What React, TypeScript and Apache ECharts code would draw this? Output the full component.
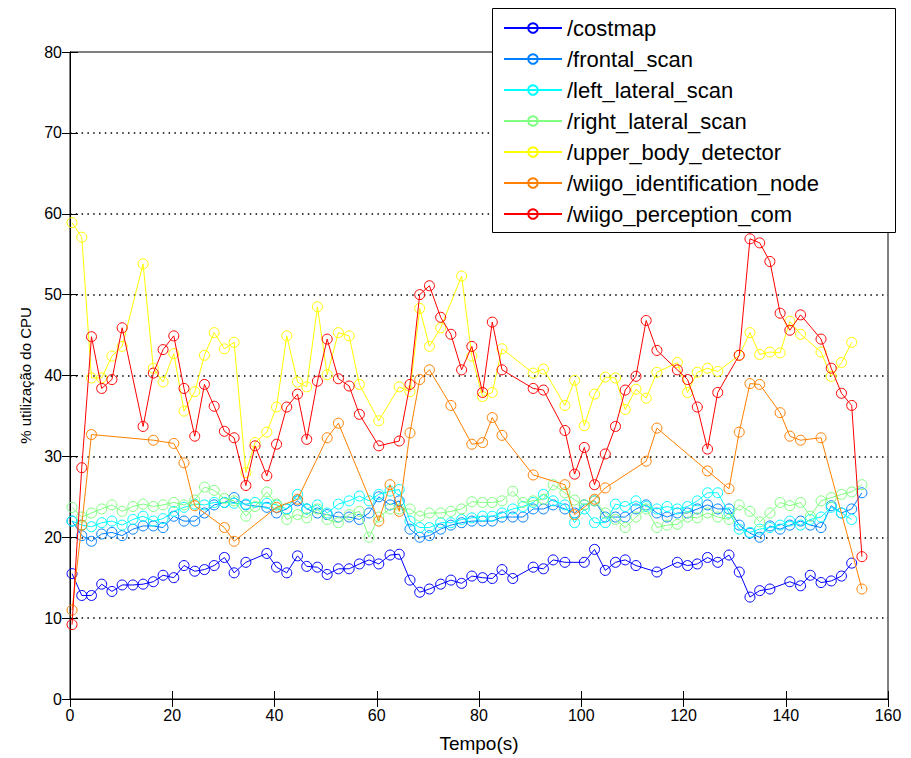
import React, { useEffect, useRef } from "react";
import * as echarts from "echarts";

const TIME = [0.4, 2.3, 4.2, 6.2, 8.2, 10.2, 12.3, 14.3, 16.3, 18.2, 20.3, 22.3, 24.4, 26.3, 28.2, 30.2, 32.1, 34.4, 36.2, 38.5, 40.4, 42.4, 44.5, 46.3, 48.4, 50.3, 52.5, 54.6, 56.6, 58.5, 60.4, 62.6, 64.4, 66.5, 68.4, 70.3, 72.5, 74.5, 76.6, 78.6, 80.7, 82.6, 84.5, 86.6, 88.6, 90.6, 92.6, 94.5, 96.8, 98.7, 100.6, 102.6, 104.7, 106.7, 108.6, 110.7, 112.7, 114.8, 116.8, 118.8, 120.8, 122.7, 124.7, 126.7, 128.9, 130.9, 133.0, 134.9, 136.9, 138.9, 140.8, 142.9, 144.8, 146.9, 148.9, 150.9, 152.9, 154.9];

const costmap = [15.5, 12.8, 12.8, 14.2, 13.3, 14.1, 14.1, 14.2, 14.5, 15.3, 15, 16.5, 15.8, 16, 16.5, 17.5, 15.6, 16.9, null, 18, 16.3, 15.6, 17.7, 16.4, 16.3, 15.4, 16.1, 16.1, 16.7, 17.2, 16.7, 17.8, 17.9, 14.7, 13.2, 13.6, 14.2, 14.7, 14.3, 15.2, 15, 14.9, 16, 14.9, null, 16.3, 16.1, 17.2, 16.9, null, 16.9, 18.5, 15.9, 16.9, 17.2, 16.5, null, 15.7, null, 16.9, 16.5, 16.7, 17.5, 16.9, 17.8, 15.7, 12.6, 13.4, 13.6, null, 14.5, 14, 15.3, 14.4, 14.6, 15.2, 16.8, null];

const frontalScan = [22, 20.2, 19.5, 20.4, 20.6, 20.2, 21, 21.4, 21.4, 21.2, 22.6, 22, 22, 23, 24, 24.3, 24.9, 24, null, 23.7, 23, 23.5, 24.5, 23.5, 23, 22.8, 22.5, 22.5, 22.2, 23, 25, 24, 24.5, 21, 20, 20.2, 21, 21.5, 21.8, 22, 22, 22, 22.5, 22.5, 22.5, 23.5, 23.5, 24, 23.5, 23, 24, 24.5, 22.5, 22.5, 22.5, 23.5, 24, 23, 22.5, 23, 23, 23.5, 24, 23.5, 23.5, 21.5, 20.5, 20, 21.4, 21, 21.5, 22, 21.5, 21.2, 23.9, 23, 23.5, 25.5];

const leftLateralScan = [22, 21.5, 21.3, 21.8, 22, 21.5, 22.2, 22.6, 22, 22.3, 23.2, 23.7, 24.1, 24, 24.3, 24.3, 24.2, 24.1, 24.3, 24.2, 24, 23.5, 25.3, 23.5, 24, 23, 24.1, 24.5, 25.1, 24.5, 25.3, 25.7, 25.9, 22, 21.2, 21.2, 21.8, 21.8, 22.2, 22.4, 22.6, 22.6, 23, 23.5, 23.8, 24.3, 25.3, 24.5, 24, 21.8, 23.5, 21.8, 21.8, 24.1, 23.8, 24.5, 23.8, 23.5, 23.8, 23.5, 23.8, 24.5, 25.5, 25.5, 23, 21, 20.6, 21, 21.2, 21.5, 22, 21.5, 22.2, 22.5, 23.7, 23, 22.2, null];

const rightLateralScan = [23.7, 22.5, 23, 23.5, 24, 23.2, 23.8, 24.1, 23.8, 24, 24.3, 24, 24.6, 26.2, 25.8, 24.8, 24.5, 22.6, 23.8, 25.6, 24.1, 22.2, 22.8, 22.4, 23.5, 22.2, 21.8, 22.8, 23.2, 20, 22.5, 23.5, 23.5, 23.5, 22.6, 23, 23, 23.2, 23.5, 24.4, 24.3, 24.3, 24.5, 25.7, 24.3, 24.5, 24.7, 26.5, 25.5, 24.6, 24, 24.5, 23, 22.2, 21.2, 22.5, 23.5, 21.2, 21.5, 21.6, 22.5, 22.4, 23, 22.5, 22.2, 24, 23.2, 21.9, 23, 24.3, 23.9, 24.3, 22.6, 24.5, 24.9, 25.3, 25.6, 26.5];

const upperBodyDetector = [58.9, 57.1, 39.7, 39.7, 42.4, 43.6, null, 53.8, 40.9, 39.2, 42.7, 35.6, 38, 42.5, 45.3, 43.3, 44.1, 28, 31.7, 33, 36.1, 44.9, 39.2, 38.6, 48.5, 40.1, 45.3, 44.9, 38.9, null, 34.4, null, 38.6, 38, 48.3, 43.6, 45.9, null, 52.3, 42.4, 37.4, 37.9, 43.3, null, null, 40.3, 40.8, null, 36.3, 39.4, 33.8, 37.7, 39.8, 39.7, 35.8, 38.3, 37.2, 40.4, null, 41.6, 37.9, 40.4, 40.9, 40.5, null, 42.5, 45.3, 42.6, 42.9, 42.8, 46.7, 45.1, null, 42.9, 39.9, 41.6, 44.1, null];

const identificationNode = [11, 21.5, 32.7, null, null, null, null, null, 32, null, 31.6, 29.2, 23.9, null, null, 21.2, 19.5, null, null, null, 23.7, null, 24.7, null, null, 32.3, 34.1, null, null, null, 22, 26.5, 23.2, 32.9, 39.5, 40.7, null, 36.3, null, 31.5, 31.7, 34.8, 32.6, null, null, 27.7, null, null, 26.5, 22.8, null, 24.7, 26.1, null, null, null, 29.4, 33.5, null, null, null, null, 28.2, null, 26, 33, 39, 38.9, null, 35.4, 32.5, 32, null, 32.3, null, null, null, 13.6];

const perceptionCom = [9.2, 28.6, 44.8, 38.4, 39.5, 45.9, null, 33.7, 40.3, 43.2, 44.9, 38.4, 32.5, 38.9, 36.2, 33.1, 32.3, 26.4, 31.3, 27.6, 31.5, 36.1, 37.7, 32.1, 39.3, 44.5, 39.6, 38.7, 35.2, null, 31.3, null, 31.9, 38.9, 50, 51.1, 47.2, 45.1, 40.7, 43.6, 37.9, 46.6, 40.7, null, null, 38.4, 38.2, null, 33.2, 27.8, 31.1, 26.5, 30.3, 33.7, 38.2, 39.9, 46.8, 43.1, null, 40.7, 39.5, 36.1, 30.9, 37.9, null, 42.5, 56.9, 56.4, 54.1, 47.7, 45.6, 47.5, null, 44.5, 40.9, 37.8, 36.3, 17.6];

const SERIES_NAMES = ["/costmap", "/frontal_scan", "/left_lateral_scan", "/right_lateral_scan", "/upper_body_detector", "/wiigo_identification_node", "/wiigo_perception_com"];
const SERIES_VALUES = [costmap, frontalScan, leftLateralScan, rightLateralScan, upperBodyDetector, identificationNode, perceptionCom];
const SERIES_COLORS = ["#0000ff", "#0080ff", "#00ffff", "#80ff80", "#ffff00", "#ff8000", "#ff0000"];

const FONT = "'Liberation Sans', Arial, sans-serif";

export default function App() {
  const ref = useRef<HTMLDivElement>(null);
  useEffect(() => {
    if (!ref.current) return;
    const chart = echarts.init(ref.current, undefined, { renderer: "svg" });
    const series = SERIES_NAMES.map((name, k) => ({
      name,
      type: "line",
      xAxisIndex: 0,
      yAxisIndex: 0,
      data: TIME.map((t, i) => [t, SERIES_VALUES[k][i]]).filter((d) => d[1] != null),
      symbol: "circle",
      symbolSize: 10,
      showSymbol: true,
      lineStyle: { color: SERIES_COLORS[k], width: 1 },
      itemStyle: { color: "rgba(0,0,0,0)", borderColor: SERIES_COLORS[k], borderWidth: 1 },
      emphasis: { disabled: true },
      z: 2 + k,
    }));
    const axisLine = { show: true, lineStyle: { color: "#000", width: 1 } };
    const axisTick = { show: true, inside: true, length: 8, lineStyle: { color: "#000" } };
    chart.setOption({
      animation: false,
      backgroundColor: "#fff",
      textStyle: { fontFamily: FONT },
      grid: { left: 70, right: 23, top: 52, bottom: 58, show: true, borderColor: "#000", borderWidth: 1, backgroundColor: "transparent" },
      xAxis: [
        {
          type: "value", min: 0, max: 160, interval: 20, position: "bottom",
          name: "Tempo(s)", nameLocation: "middle", nameGap: 35,
          nameTextStyle: { fontSize: 19, color: "#000", fontFamily: FONT },
          axisLine, axisTick,
          axisLabel: { color: "#000", fontSize: 16, margin: 8, fontFamily: FONT },
          splitLine: { show: false },
        },
        {
          type: "value", min: 0, max: 160, interval: 20, position: "top",
          axisLine, axisTick, axisLabel: { show: false }, splitLine: { show: false },
        },
      ],
      yAxis: [
        {
          type: "value", min: 0, max: 80, interval: 10, position: "left",
          name: "% utilização do CPU", nameLocation: "middle", nameGap: 30, nameRotate: 90,
          nameTextStyle: { fontSize: 15, color: "#000", fontFamily: FONT },
          axisLine, axisTick,
          axisLabel: { color: "#000", fontSize: 16, margin: 8, fontFamily: FONT },
          splitLine: { show: true, showMinLine: false, showMaxLine: false, lineStyle: { color: "#000", width: 1.5, type: [1.5, 4.3] } },
        },
        {
          type: "value", min: 0, max: 80, interval: 10, position: "right",
          axisLine, axisTick, axisLabel: { show: false }, splitLine: { show: false },
        },
      ],
      graphic: {
        elements: [
          {
            type: "rect", z: 100,
            shape: { x: 492.5, y: 8.5, width: 403, height: 224 },
            style: { fill: "#fff", stroke: "#000", lineWidth: 1 },
          },
        ],
      },
      legend: {
        z: 110,
        orient: "vertical",
        left: 503,
        top: 17,
        padding: 0,
        itemWidth: 58,
        itemHeight: 12,
        itemGap: 9,
        textStyle: { fontSize: 22, color: "#000", fontFamily: FONT },
        data: SERIES_NAMES,
        selectedMode: false,
      },
      series,
    });
    return () => chart.dispose();
  }, []);
  return <div ref={ref} style={{ position: "fixed", left: 0, top: 0, width: 911, height: 758 }} />;
}
